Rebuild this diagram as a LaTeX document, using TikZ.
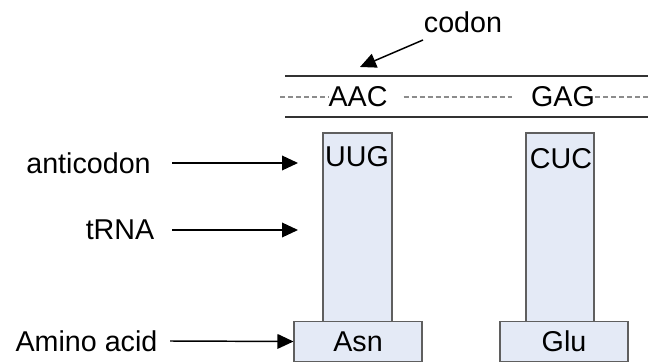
\documentclass[tikz,border=0pt]{standalone}
\usepackage{fontspec}
\setmainfont{Liberation Sans}
\usetikzlibrary{arrows.meta}

\definecolor{stemfill}{RGB}{228,234,246}
\definecolor{stemedge}{RGB}{95,95,95}
\definecolor{dashgray}{RGB}{140,140,140}

\tikzset{
    lbl/.style={font=\fontsize{21.5}{25}\selectfont, inner sep=0pt},
    pointer/.style={line width=1.1pt, -{Triangle[length=12pt,width=11pt]}},
    stem/.style={draw=stemedge, fill=stemfill, line width=0.8pt},
    aminobox/.style={stem, lbl, minimum width=96pt, minimum height=29.5pt},
    strand/.style={draw=black!80, line width=0.9pt},
    dashline/.style={draw=dashgray, line width=0.8pt, dash pattern=on 4pt off 2pt}
}

\begin{document}
\begin{tikzpicture}[x=0.75pt,y=-0.75pt]

\useasboundingbox (0,0) rectangle (659,363);

% mRNA strand
\draw[strand] (285,76) -- (648,76);
\draw[strand] (285,117) -- (648,117);
\node[lbl] (aac) at (358,97) {AAC};
\node[lbl] (gag) at (563,97) {GAG};
\coordinate (d0) at (280,97);
\coordinate (d1) at (648,97);
\draw[dashline] (d0) -- (aac.west);
\draw[dashline] ([xshift=12pt]aac.east) -- ([xshift=-14pt]gag.west);
\draw[dashline] (gag.east) -- (d1);

% codon label
\node[lbl] (codon) at (463,22) {codon};
\coordinate (c0) at (423,40);
\coordinate (c1) at (360,67);
\draw[pointer] (c0) -- (c1);

% tRNA stems
\draw[stem] (323,133) rectangle (392,322);
\draw[stem] (526,133) rectangle (594,322);
\node[lbl] (uug) at (357,157) {UUG};
\node[lbl] (cuc) at (561,159) {CUC};

% amino acids
\node[aminobox] (asn) at (358,341.5) {Asn};
\node[aminobox] (glu) at (564,341.5) {Glu};

% left labels
\node[lbl] (anti) at (88.5,163) {anticodon};
\node[lbl] (trna) at (120,230) {tRNA};
\node[lbl] (amino) at (86.5,341) {Amino acid};
\coordinate (a0) at (172,163);
\coordinate (a1) at (298,163);
\coordinate (t0) at (172,230);
\coordinate (t1) at (298,230);
\coordinate (m0) at (170,341);
\draw[pointer] (a0) -- (a1);
\draw[pointer] (t0) -- (t1);
\draw[pointer] (m0) -- (asn.west);

\end{tikzpicture}
\end{document}
